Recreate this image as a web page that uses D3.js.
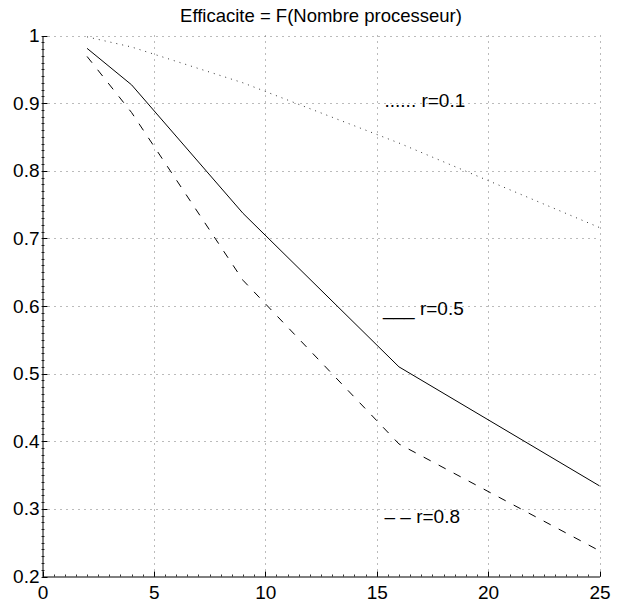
<!DOCTYPE html>
<html>
<head>
<meta charset="utf-8">
<script src="https://cdn.jsdelivr.net/npm/d3@7"></script>
<style>
  body { margin: 0; background: #fff; }
  svg { display: block; font-family: "Liberation Sans", Arial, Helvetica, sans-serif; }
</style>
</head>
<body>
<svg id="chart" width="618" height="603"></svg>
<script>
// ---- data ----
const title = "Efficacite = F(Nombre processeur)";
const processors = [2, 4, 9, 16, 25];
const effR01 = [0.998, 0.983, 0.930, 0.841, 0.716];
const effR05 = [0.981, 0.927, 0.737, 0.510, 0.334];
const effR08 = [0.969, 0.886, 0.638, 0.396, 0.238];
const xTicks = [0, 5, 10, 15, 20, 25];
const yTicks = [0.2, 0.3, 0.4, 0.5, 0.6, 0.7, 0.8, 0.9, 1];
const labels = ["...... r=0.1", "___ r=0.5", "\u2013 \u2013 r=0.8"];
const labelAnchors = [[15.35, 0.895], [15.28, 0.587], [15.35, 0.279]];

// ---- layout ----
const svg = d3.select("#chart");
const pLeft = 42.5, pRight = 599.5, pTop = 35.5, pBottom = 576.5;
const x = d3.scaleLinear().domain([0, 25]).range([pLeft, pRight]);
const y = d3.scaleLinear().domain([0.2, 1]).range([pBottom, pTop]);

// grid (dotted)
const grid = svg.append("g").attr("stroke", "#777").attr("stroke-width", 1).attr("stroke-dasharray", "1,5");
xTicks.slice(1).forEach(t => {
  grid.append("line").attr("x1", Math.round(x(t)) + 0.5).attr("x2", Math.round(x(t)) + 0.5)
    .attr("y1", pTop).attr("y2", pBottom);
});
yTicks.slice(1).forEach(t => {
  grid.append("line").attr("y1", Math.round(y(t)) + 0.5).attr("y2", Math.round(y(t)) + 0.5)
    .attr("x1", pLeft).attr("x2", pRight);
});

// axes
const xAxis = d3.axisBottom(x).tickValues(xTicks).tickSize(0).tickPadding(9).tickFormat(d3.format("d"));
const yAxis = d3.axisLeft(y).tickValues(yTicks).tickSize(0).tickPadding(3).tickFormat(d => d === 1 ? "1" : d3.format(".1f")(d));

const gx = svg.append("g").attr("transform", `translate(0,${pBottom})`).call(xAxis);
const gy = svg.append("g").attr("transform", `translate(${pLeft},0)`).call(yAxis);
[gx, gy].forEach(g => {
  g.select(".domain").attr("stroke", "#000").attr("stroke-width", 1);
  g.selectAll("text").attr("font-size", 19).attr("fill", "#000")
    .attr("font-family", "'Liberation Sans', Arial, sans-serif");
});
gx.selectAll("text").attr("dy", "0.71em");

// major ticks inward
const tk = svg.append("g").attr("stroke", "#000").attr("stroke-width", 1);
xTicks.forEach(t => tk.append("line").attr("x1", Math.round(x(t)) + 0.5).attr("x2", Math.round(x(t)) + 0.5).attr("y1", pBottom).attr("y2", pBottom - 5));
yTicks.forEach(t => tk.append("line").attr("y1", Math.round(y(t)) + 0.5).attr("y2", Math.round(y(t)) + 0.5).attr("x1", pLeft).attr("x2", pLeft + 5));
// minor ticks
d3.range(0.2, 1.0001, 0.01).forEach(t => tk.append("line").attr("y1", Math.round(y(t)) + 0.5).attr("y2", Math.round(y(t)) + 0.5).attr("x1", pLeft - 1).attr("x2", pLeft + 2).attr("stroke-width", 0.8));
d3.range(0, 25.001, 0.5).forEach(t => tk.append("line").attr("x1", Math.round(x(t)) + 0.5).attr("x2", Math.round(x(t)) + 0.5).attr("y1", pBottom).attr("y2", pBottom - 2).attr("stroke-width", 0.8));

// lines
const line = d3.line().x((d, i) => x(processors[i])).y(d => y(d));
svg.append("path").datum(effR01).attr("d", line).attr("fill", "none")
  .attr("stroke", "#333").attr("stroke-width", 1).attr("stroke-dasharray", "1,5");
svg.append("path").datum(effR05).attr("d", line).attr("fill", "none")
  .attr("stroke", "#000").attr("stroke-width", 1);
svg.append("path").datum(effR08).attr("d", line).attr("fill", "none")
  .attr("stroke", "#000").attr("stroke-width", 1).attr("stroke-dasharray", "8,9");

// legend texts (placed text)
labels.forEach((t, i) => {
  svg.append("text").attr("x", x(labelAnchors[i][0])).attr("y", y(labelAnchors[i][1]))
    .attr("font-size", 19).attr("fill", "#000").text(t);
});

// title
svg.append("text").attr("x", (pLeft + pRight) / 2).attr("y", 22).attr("text-anchor", "middle")
  .attr("font-size", 18.5).attr("fill", "#000").text(title);
</script>
</body>
</html>
